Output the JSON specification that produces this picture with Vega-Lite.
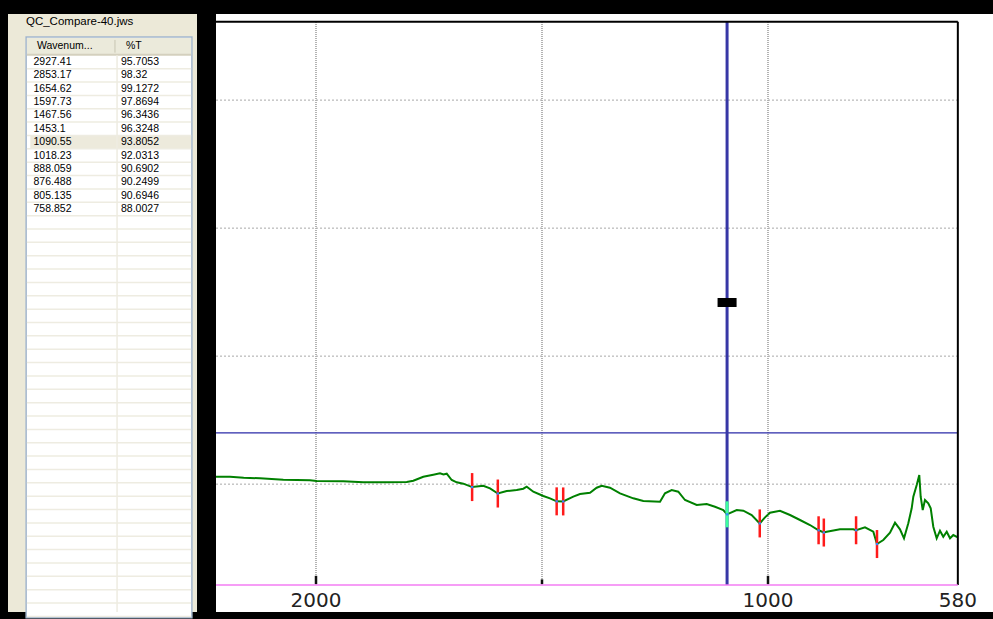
{
  "$schema": "https://vega.github.io/schema/vega-lite/v6.json",
  "background": "#000000",
  "padding": {"left": 8, "top": 14, "right": 0, "bottom": 7},
  "spacing": 19,
  "bounds": "flush",
  "config": {"view": {"stroke": null}, "font": "Liberation Sans"},
  "datasets": {
    "peaks": [
      {"rank": 1, "wn": 2927.41, "t": 95.7053},
      {"rank": 2, "wn": 2853.17, "t": 98.32},
      {"rank": 3, "wn": 1654.62, "t": 99.1272},
      {"rank": 4, "wn": 1597.73, "t": 97.8694},
      {"rank": 5, "wn": 1467.56, "t": 96.3436},
      {"rank": 6, "wn": 1453.1, "t": 96.3248},
      {"rank": 7, "wn": 1090.55, "t": 93.8052},
      {"rank": 8, "wn": 1018.23, "t": 92.0313},
      {"rank": 9, "wn": 888.059, "t": 90.6902},
      {"rank": 10, "wn": 876.488, "t": 90.2499},
      {"rank": 11, "wn": 805.135, "t": 90.6946},
      {"rank": 12, "wn": 758.852, "t": 88.0027}
    ],
    "rowslots": [
      {"slot": 1}, {"slot": 2}, {"slot": 3}, {"slot": 4}, {"slot": 5}, {"slot": 6}, {"slot": 7},
      {"slot": 8}, {"slot": 9}, {"slot": 10}, {"slot": 11}, {"slot": 12}, {"slot": 13}, {"slot": 14},
      {"slot": 15}, {"slot": 16}, {"slot": 17}, {"slot": 18}, {"slot": 19}, {"slot": 20}, {"slot": 21},
      {"slot": 22}, {"slot": 23}, {"slot": 24}, {"slot": 25}, {"slot": 26}, {"slot": 27}, {"slot": 28},
      {"slot": 29}, {"slot": 30}, {"slot": 31}, {"slot": 32}, {"slot": 33}, {"slot": 34}, {"slot": 35},
      {"slot": 36}, {"slot": 37}, {"slot": 38}, {"slot": 39}, {"slot": 40}, {"slot": 41}, {"slot": 42}
    ],
    "spectrum": [
      {"wn": 2221.2, "t": 101.15}, {"wn": 2190.3, "t": 101.15}, {"wn": 2160.0, "t": 100.95}, {"wn": 2123.9, "t": 100.84},
      {"wn": 2072.3, "t": 100.57}, {"wn": 2013.3, "t": 100.45}, {"wn": 1998.5, "t": 100.31},
      {"wn": 1939.6, "t": 100.25}, {"wn": 1895.4, "t": 100.06}, {"wn": 1843.6, "t": 100.06},
      {"wn": 1799.3, "t": 100.12}, {"wn": 1784.7, "t": 100.37}, {"wn": 1762.6, "t": 101.15},
      {"wn": 1740.5, "t": 101.54}, {"wn": 1725.7, "t": 101.82}, {"wn": 1718.0, "t": 101.6}, {"wn": 1710.8, "t": 101.74},
      {"wn": 1699.8, "t": 100.51}, {"wn": 1688.7, "t": 100.06}, {"wn": 1674.1, "t": 99.79},
      {"wn": 1654.6, "t": 99.13}, {"wn": 1629.9, "t": 99.39}, {"wn": 1615.0, "t": 98.89},
      {"wn": 1597.7, "t": 97.87}, {"wn": 1578.1, "t": 98.36}, {"wn": 1556.0, "t": 98.55},
      {"wn": 1541.4, "t": 98.81}, {"wn": 1533.8, "t": 99.2}, {"wn": 1519.2, "t": 98.22},
      {"wn": 1497.1, "t": 97.38}, {"wn": 1482.3, "t": 96.93}, {"wn": 1467.6, "t": 96.34},
      {"wn": 1453.1, "t": 96.32}, {"wn": 1430.8, "t": 97.25}, {"wn": 1415.9, "t": 97.77},
      {"wn": 1393.8, "t": 98.03}, {"wn": 1379.0, "t": 99.0}, {"wn": 1367.9, "t": 99.39},
      {"wn": 1349.6, "t": 99.0}, {"wn": 1327.4, "t": 97.91}, {"wn": 1298.0, "t": 96.93},
      {"wn": 1275.9, "t": 96.41}, {"wn": 1238.9, "t": 96.27}, {"wn": 1227.9, "t": 97.91},
      {"wn": 1213.1, "t": 98.55}, {"wn": 1198.5, "t": 98.22}, {"wn": 1183.6, "t": 96.6},
      {"wn": 1157.7, "t": 95.62}, {"wn": 1135.6, "t": 95.82}, {"wn": 1117.3, "t": 95.29},
      {"wn": 1098.9, "t": 94.65}, {"wn": 1090.6, "t": 93.81}, {"wn": 1069.2, "t": 94.65},
      {"wn": 1054.6, "t": 94.51}, {"wn": 1036.1, "t": 93.67}, {"wn": 1018.2, "t": 92.03},
      {"wn": 1006.6, "t": 93.22}, {"wn": 995.6, "t": 94.12}, {"wn": 973.5, "t": 94.51},
      {"wn": 951.3, "t": 93.67}, {"wn": 929.2, "t": 92.7}, {"wn": 907.1, "t": 91.72},
      {"wn": 888.1, "t": 90.69}, {"wn": 876.5, "t": 90.25}, {"wn": 870.1, "t": 90.41},
      {"wn": 840.7, "t": 90.88}, {"wn": 811.3, "t": 90.88}, {"wn": 805.1, "t": 90.69},
      {"wn": 785.4, "t": 91.27}, {"wn": 767.0, "t": 90.41}, {"wn": 758.9, "t": 88.0},
      {"wn": 744.9, "t": 88.79}, {"wn": 730.1, "t": 90.21}, {"wn": 719.0, "t": 92.17},
      {"wn": 708.0, "t": 90.88}, {"wn": 699.1, "t": 89.12}, {"wn": 689.6, "t": 92.05},
      {"wn": 682.1, "t": 94.98}, {"wn": 678.5, "t": 97.25}, {"wn": 671.0, "t": 99.53},
      {"wn": 665.3, "t": 101.48}, {"wn": 662.2, "t": 97.25}, {"wn": 657.7, "t": 94.65},
      {"wn": 652.7, "t": 96.6}, {"wn": 645.4, "t": 95.96}, {"wn": 640.0, "t": 94.98},
      {"wn": 634.3, "t": 91.39}, {"wn": 626.8, "t": 89.12}, {"wn": 619.5, "t": 90.61},
      {"wn": 612.2, "t": 89.43}, {"wn": 604.6, "t": 90.41}, {"wn": 597.3, "t": 89.12},
      {"wn": 590.0, "t": 89.77}, {"wn": 580.0, "t": 89.32}
    ],
    "xgrid": [{"wn": 2000}, {"wn": 1500}, {"wn": 1000}],
    "ygrid": [{"t": 99.7}, {"t": 124.7}, {"t": 149.7}, {"t": 174.7}],
    "xlabels": [
      {"wn": 2000, "label": "2000"},
      {"wn": 1000, "label": "1000"},
      {"wn": 580, "label": "580"}
    ]
  },
  "hconcat": [
    {
      "width": 189,
      "height": 598,
      "view": {"fill": "#ECE9D8", "stroke": null},
      "layer": [
        {
          "data": {"values": [{}]},
          "mark": {"type": "rect", "fill": "#FFFFFF", "stroke": "#A3B6CD", "strokeWidth": 1.5},
          "encoding": {
            "x": {"datum": 9.6, "type": "quantitative", "scale": {"domain": [0, 100], "nice": false, "zero": false}, "axis": null},
            "x2": {"datum": 97.3},
            "y": {"datum": -0.87, "type": "quantitative", "scale": {"domain": [-2.593, 42.17], "reverse": true, "nice": false, "zero": false}, "axis": null},
            "y2": {"datum": 42.6}
          }
        },
        {
          "data": {"values": [{}]},
          "mark": {"type": "rect", "fill": "#EBEADB"},
          "encoding": {
            "x": {"datum": 10.0, "type": "quantitative", "scale": {"domain": [0, 100], "nice": false, "zero": false}, "axis": null},
            "x2": {"datum": 96.9},
            "y": {"datum": -0.8, "type": "quantitative", "scale": {"domain": [-2.593, 42.17], "reverse": true, "nice": false, "zero": false}, "axis": null},
            "y2": {"datum": 0.45}
          }
        },
        {
          "data": {"values": [{}]},
          "mark": {"type": "rule", "stroke": "#D4D0BE", "strokeWidth": 2},
          "encoding": {
            "x": {"datum": 10.0, "type": "quantitative", "scale": {"domain": [0, 100], "nice": false, "zero": false}, "axis": null},
            "x2": {"datum": 96.9},
            "y": {"datum": 0.45, "type": "quantitative", "scale": {"domain": [-2.593, 42.17], "reverse": true, "nice": false, "zero": false}, "axis": null}
          }
        },
        {
          "data": {"values": [{}]},
          "mark": {"type": "rule", "stroke": "#C7C5B2", "strokeWidth": 1},
          "encoding": {
            "x": {"datum": 56.6, "type": "quantitative", "scale": {"domain": [0, 100], "nice": false, "zero": false}, "axis": null},
            "y": {"datum": -0.65, "type": "quantitative", "scale": {"domain": [-2.593, 42.17], "reverse": true, "nice": false, "zero": false}, "axis": null},
            "y2": {"datum": 0.3}
          }
        },
        {
          "data": {"values": [{}]},
          "mark": {"type": "rect", "fill": "#EDEADC"},
          "encoding": {
            "x": {"datum": 11.8, "type": "quantitative", "scale": {"domain": [0, 100], "nice": false, "zero": false}, "axis": null},
            "x2": {"datum": 96.9},
            "y": {"datum": 6.5, "type": "quantitative", "scale": {"domain": [-2.593, 42.17], "reverse": true, "nice": false, "zero": false}, "axis": null},
            "y2": {"datum": 7.5}
          }
        },
        {
          "data": {"name": "rowslots"},
          "mark": {"type": "rule", "stroke": "#EEECE1", "strokeWidth": 1.5, "yOffset": 6.68},
          "encoding": {
            "x": {"datum": 10.0, "type": "quantitative", "scale": {"domain": [0, 100], "nice": false, "zero": false}, "axis": null},
            "x2": {"datum": 96.9},
            "y": {"field": "slot", "type": "quantitative", "scale": {"domain": [-2.593, 42.17], "reverse": true, "nice": false, "zero": false}, "axis": null}
          }
        },
        {
          "data": {"values": [{}]},
          "mark": {"type": "rule", "stroke": "#EEECE1", "strokeWidth": 1.5},
          "encoding": {
            "x": {"datum": 57.7, "type": "quantitative", "scale": {"domain": [0, 100], "nice": false, "zero": false}, "axis": null},
            "y": {"datum": 0.5, "type": "quantitative", "scale": {"domain": [-2.593, 42.17], "reverse": true, "nice": false, "zero": false}, "axis": null},
            "y2": {"datum": 42.17}
          }
        },
        {
          "data": {"values": [{}]},
          "mark": {"type": "text", "text": "QC_Compare-40.jws", "align": "left", "baseline": "middle", "fontSize": 11.5, "color": "#000000"},
          "encoding": {
            "x": {"datum": 9.5, "type": "quantitative", "scale": {"domain": [0, 100], "nice": false, "zero": false}, "axis": null},
            "y": {"datum": -1.99, "type": "quantitative", "scale": {"domain": [-2.593, 42.17], "reverse": true, "nice": false, "zero": false}, "axis": null}
          }
        },
        {
          "data": {"values": [{}]},
          "mark": {"type": "text", "text": "Wavenum...", "align": "left", "baseline": "middle", "fontSize": 10.5, "color": "#000000"},
          "encoding": {
            "x": {"datum": 15.3, "type": "quantitative", "scale": {"domain": [0, 100], "nice": false, "zero": false}, "axis": null},
            "y": {"datum": -0.2, "type": "quantitative", "scale": {"domain": [-2.593, 42.17], "reverse": true, "nice": false, "zero": false}, "axis": null}
          }
        },
        {
          "data": {"values": [{}]},
          "mark": {"type": "text", "text": "%T", "align": "left", "baseline": "middle", "fontSize": 10.5, "color": "#000000"},
          "encoding": {
            "x": {"datum": 62.4, "type": "quantitative", "scale": {"domain": [0, 100], "nice": false, "zero": false}, "axis": null},
            "y": {"datum": -0.2, "type": "quantitative", "scale": {"domain": [-2.593, 42.17], "reverse": true, "nice": false, "zero": false}, "axis": null}
          }
        },
        {
          "data": {"name": "peaks"},
          "mark": {"type": "text", "align": "left", "baseline": "middle", "fontSize": 10.5, "color": "#000000"},
          "encoding": {
            "x": {"datum": 13.5, "type": "quantitative", "scale": {"domain": [0, 100], "nice": false, "zero": false}, "axis": null},
            "y": {"field": "rank", "type": "quantitative", "scale": {"domain": [-2.593, 42.17], "reverse": true, "nice": false, "zero": false}, "axis": null},
            "text": {"field": "wn", "type": "nominal"}
          }
        },
        {
          "data": {"name": "peaks"},
          "mark": {"type": "text", "align": "left", "baseline": "middle", "fontSize": 10.5, "color": "#000000"},
          "encoding": {
            "x": {"datum": 59.8, "type": "quantitative", "scale": {"domain": [0, 100], "nice": false, "zero": false}, "axis": null},
            "y": {"field": "rank", "type": "quantitative", "scale": {"domain": [-2.593, 42.17], "reverse": true, "nice": false, "zero": false}, "axis": null},
            "text": {"field": "t", "type": "nominal"}
          }
        }
      ]
    },
    {
      "width": 777,
      "height": 598,
      "view": {"fill": "#FFFFFF", "stroke": null},
      "layer": [
        {
          "data": {"name": "xgrid"},
          "mark": {"type": "rule", "stroke": "#9A9A9A", "strokeWidth": 1.5, "strokeDash": [1, 1]},
          "encoding": {
            "x": {"field": "wn", "type": "quantitative", "scale": {"domain": [502.21, 2221.24], "reverse": true, "nice": false, "zero": false}, "axis": null},
            "y": {"datum": 80, "type": "quantitative", "scale": {"domain": [74.73, 191.52], "nice": false, "zero": false}, "axis": null},
            "y2": {"datum": 190}
          }
        },
        {
          "data": {"name": "ygrid"},
          "mark": {"type": "rule", "stroke": "#A8A8A8", "strokeWidth": 1, "strokeDash": [2, 2]},
          "encoding": {
            "x": {"datum": 2221.24, "type": "quantitative", "scale": {"domain": [502.21, 2221.24], "reverse": true, "nice": false, "zero": false}, "axis": null},
            "x2": {"datum": 580},
            "y": {"field": "t", "type": "quantitative", "scale": {"domain": [74.73, 191.52], "nice": false, "zero": false}, "axis": null}
          }
        },
        {
          "data": {"values": [{}]},
          "mark": {"type": "rule", "stroke": "#2B2BA8", "strokeWidth": 1.3},
          "encoding": {
            "x": {"datum": 2221.24, "type": "quantitative", "scale": {"domain": [502.21, 2221.24], "reverse": true, "nice": false, "zero": false}, "axis": null},
            "x2": {"datum": 580},
            "y": {"datum": 109.7, "type": "quantitative", "scale": {"domain": [74.73, 191.52], "nice": false, "zero": false}, "axis": null}
          }
        },
        {
          "data": {"name": "spectrum"},
          "mark": {"type": "line", "stroke": "#008000", "strokeWidth": 2},
          "encoding": {
            "x": {"field": "wn", "type": "quantitative", "scale": {"domain": [502.21, 2221.24], "reverse": true, "nice": false, "zero": false}, "axis": null},
            "y": {"field": "t", "type": "quantitative", "scale": {"domain": [74.73, 191.52], "nice": false, "zero": false}, "axis": null}
          }
        },
        {
          "data": {"name": "peaks"},
          "transform": [{"filter": "datum.wn < 2221 && datum.wn != 1090.55"}],
          "mark": {"type": "tick", "orient": "vertical", "color": "#FF1A1A", "size": 28, "thickness": 2.5, "opacity": 1},
          "encoding": {
            "x": {"field": "wn", "type": "quantitative", "scale": {"domain": [502.21, 2221.24], "reverse": true, "nice": false, "zero": false}, "axis": null},
            "y": {"field": "t", "type": "quantitative", "scale": {"domain": [74.73, 191.52], "nice": false, "zero": false}, "axis": null}
          }
        },
        {
          "data": {"values": [{}]},
          "mark": {"type": "rule", "stroke": "#3737A6", "strokeWidth": 3},
          "encoding": {
            "x": {"datum": 1090.55, "type": "quantitative", "scale": {"domain": [502.21, 2221.24], "reverse": true, "nice": false, "zero": false}, "axis": null},
            "y": {"datum": 80, "type": "quantitative", "scale": {"domain": [74.73, 191.52], "nice": false, "zero": false}, "axis": null},
            "y2": {"datum": 190}
          }
        },
        {
          "data": {"name": "peaks"},
          "transform": [{"filter": "datum.wn == 1090.55"}],
          "mark": {"type": "tick", "orient": "vertical", "color": "#3DFF9E", "size": 26, "thickness": 3, "opacity": 1},
          "encoding": {
            "x": {"field": "wn", "type": "quantitative", "scale": {"domain": [502.21, 2221.24], "reverse": true, "nice": false, "zero": false}, "axis": null},
            "y": {"field": "t", "type": "quantitative", "scale": {"domain": [74.73, 191.52], "nice": false, "zero": false}, "axis": null}
          }
        },
        {
          "data": {"name": "peaks"},
          "transform": [{"filter": "datum.wn < 2221"}],
          "mark": {"type": "square", "color": "#2E8BFF", "size": 5, "opacity": 1, "filled": true},
          "encoding": {
            "x": {"field": "wn", "type": "quantitative", "scale": {"domain": [502.21, 2221.24], "reverse": true, "nice": false, "zero": false}, "axis": null},
            "y": {"field": "t", "type": "quantitative", "scale": {"domain": [74.73, 191.52], "nice": false, "zero": false}, "axis": null}
          }
        },
        {
          "data": {"values": [{}]},
          "mark": {"type": "rect", "fill": "#000000"},
          "encoding": {
            "x": {"datum": 1111.6, "type": "quantitative", "scale": {"domain": [502.21, 2221.24], "reverse": true, "nice": false, "zero": false}, "axis": null},
            "x2": {"datum": 1069.5},
            "y": {"datum": 134.3, "type": "quantitative", "scale": {"domain": [74.73, 191.52], "nice": false, "zero": false}, "axis": null},
            "y2": {"datum": 136.05}
          }
        },
        {
          "data": {"values": [{}]},
          "mark": {"type": "rule", "stroke": "#000000", "strokeWidth": 2},
          "encoding": {
            "x": {"datum": 2221.24, "type": "quantitative", "scale": {"domain": [502.21, 2221.24], "reverse": true, "nice": false, "zero": false}, "axis": null},
            "x2": {"datum": 580},
            "y": {"datum": 190, "type": "quantitative", "scale": {"domain": [74.73, 191.52], "nice": false, "zero": false}, "axis": null}
          }
        },
        {
          "data": {"values": [{}]},
          "mark": {"type": "rule", "stroke": "#000000", "strokeWidth": 2},
          "encoding": {
            "x": {"datum": 580, "type": "quantitative", "scale": {"domain": [502.21, 2221.24], "reverse": true, "nice": false, "zero": false}, "axis": null},
            "y": {"datum": 80, "type": "quantitative", "scale": {"domain": [74.73, 191.52], "nice": false, "zero": false}, "axis": null},
            "y2": {"datum": 190}
          }
        },
        {
          "data": {"values": [{}]},
          "mark": {"type": "rule", "stroke": "#F37DF3", "strokeWidth": 1.5},
          "encoding": {
            "x": {"datum": 2221.24, "type": "quantitative", "scale": {"domain": [502.21, 2221.24], "reverse": true, "nice": false, "zero": false}, "axis": null},
            "x2": {"datum": 580},
            "y": {"datum": 80, "type": "quantitative", "scale": {"domain": [74.73, 191.52], "nice": false, "zero": false}, "axis": null}
          }
        },
        {
          "data": {"name": "xgrid"},
          "transform": [{"filter": "datum.wn != 1500"}],
          "mark": {"type": "rule", "stroke": "#111111", "strokeWidth": 2.5},
          "encoding": {
            "x": {"field": "wn", "type": "quantitative", "scale": {"domain": [502.21, 2221.24], "reverse": true, "nice": false, "zero": false}, "axis": null},
            "y": {"datum": 80.2, "type": "quantitative", "scale": {"domain": [74.73, 191.52], "nice": false, "zero": false}, "axis": null},
            "y2": {"datum": 81.8}
          }
        },
        {
          "data": {"name": "xgrid"},
          "transform": [{"filter": "datum.wn == 1500"}],
          "mark": {"type": "rule", "stroke": "#111111", "strokeWidth": 2.5},
          "encoding": {
            "x": {"field": "wn", "type": "quantitative", "scale": {"domain": [502.21, 2221.24], "reverse": true, "nice": false, "zero": false}, "axis": null},
            "y": {"datum": 80.2, "type": "quantitative", "scale": {"domain": [74.73, 191.52], "nice": false, "zero": false}, "axis": null},
            "y2": {"datum": 81.1}
          }
        },
        {
          "data": {"name": "xlabels"},
          "mark": {"type": "text", "font": "DejaVu Sans", "fontSize": 20, "color": "#222222", "align": "center", "baseline": "middle"},
          "encoding": {
            "x": {"field": "wn", "type": "quantitative", "scale": {"domain": [502.21, 2221.24], "reverse": true, "nice": false, "zero": false}, "axis": null},
            "y": {"datum": 76.9, "type": "quantitative", "scale": {"domain": [74.73, 191.52], "nice": false, "zero": false}, "axis": null},
            "text": {"field": "label", "type": "nominal"}
          }
        }
      ]
    }
  ]
}
